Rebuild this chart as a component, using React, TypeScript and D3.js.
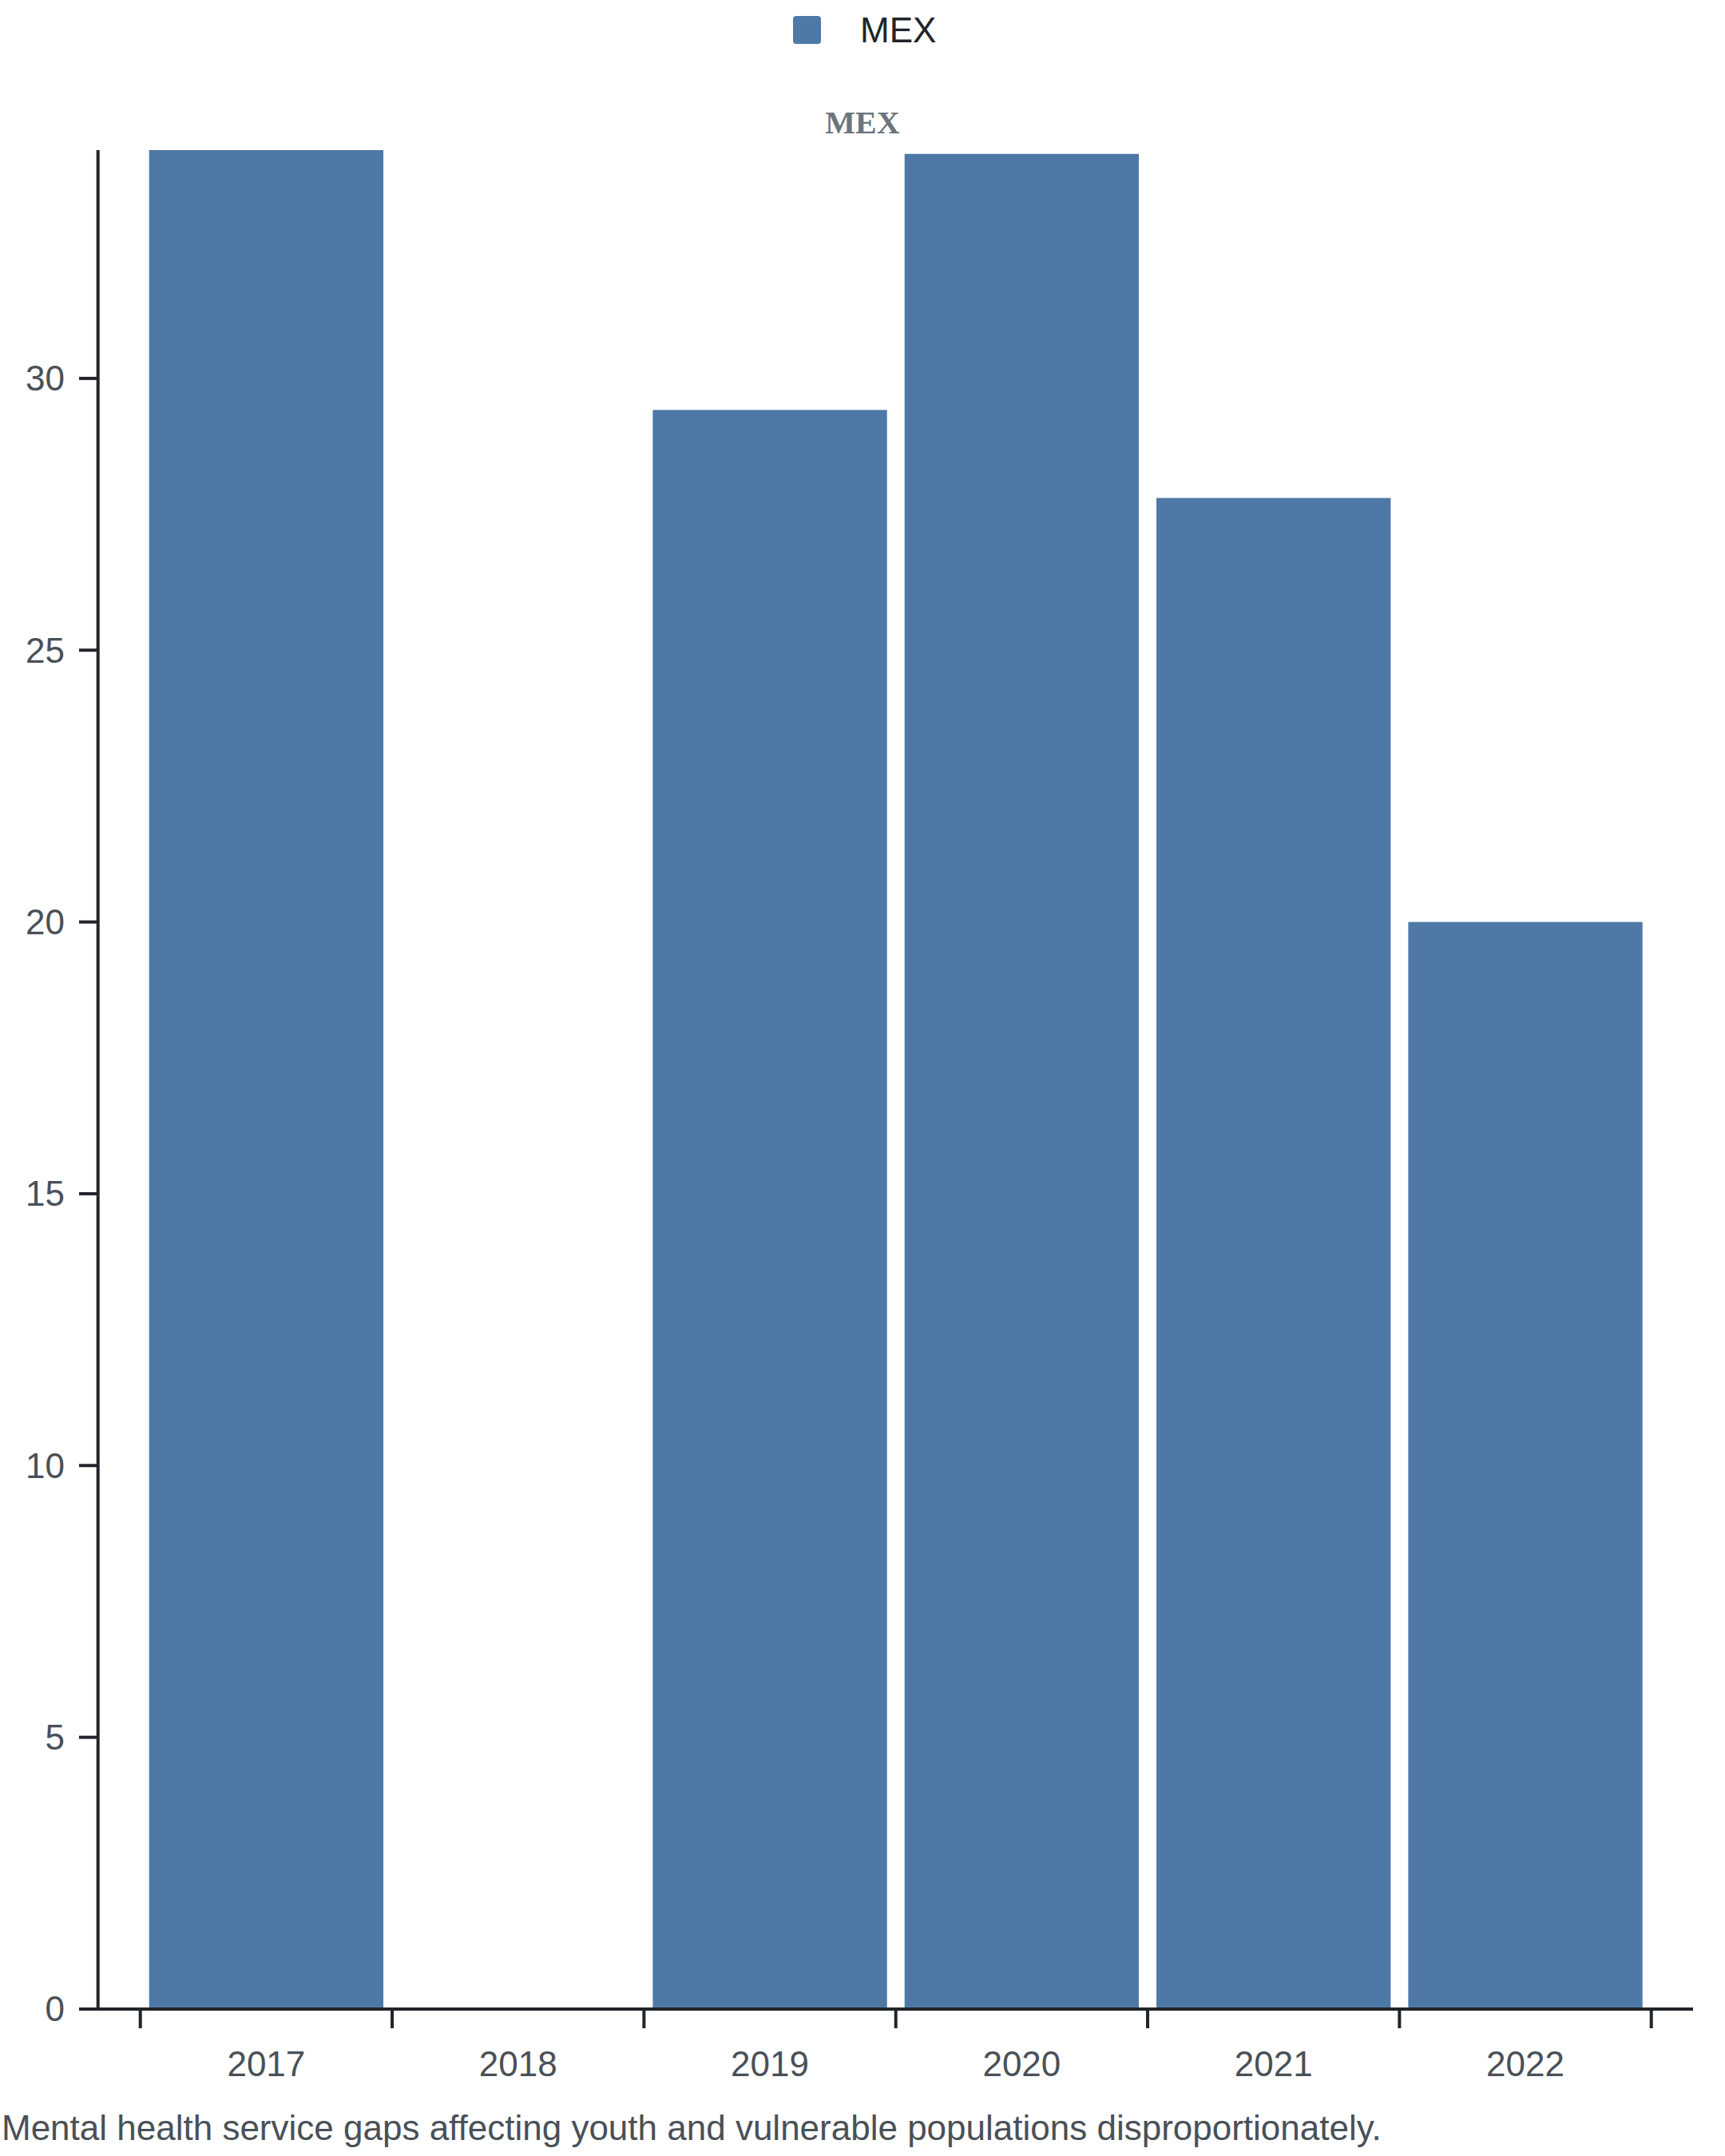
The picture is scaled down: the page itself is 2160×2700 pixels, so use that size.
import React from "react"
import * as d3 from "d3"

const years = ["2017", "2018", "2019", "2020", "2021", "2022"]
const values = [34.2, 0, 29.42, 34.13, 27.8, 20.0]
const yTicks = [0, 5, 10, 15, 20, 25, 30]
const seriesName = "MEX"
const caption = "Mental health service gaps affecting youth and vulnerable populations disproportionately."

const W = 2160
const H = 2700
const sans = "'Liberation Sans', Arial, Helvetica, sans-serif"

export default function App() {
  const x = d3.scaleBand<string>().domain(years).range([175.7, 2067.7]).padding(0)
  const y = d3.scaleLinear().domain([0, 34.2]).range([2516, 188])
  const inset = 11
  const axisColor = "#212529"
  const labelColor = "#495057"

  return (
    <svg
      width={W}
      height={H}
      style={{ position: "absolute", left: 0, top: 0, background: "#fff" }}
    >
      {/* legend */}
      <rect x={993} y={20} width={35} height={35} rx={4} fill="#4e79a7" />
      <text x={1077} y={53} fontFamily={sans} fontSize={44} fill="#212529">
        {seriesName}
      </text>

      {/* title */}
      <text
        x={1080}
        y={166.5}
        textAnchor="middle"
        fontFamily="'Liberation Serif', 'Times New Roman', serif"
        fontWeight="bold"
        fontSize={40}
        fill="#6c757d"
      >
        {seriesName}
      </text>

      {/* bars */}
      {years.map((yr, i) => (
        <rect
          key={yr}
          x={(x(yr) ?? 0) + inset}
          y={y(values[i])}
          width={x.bandwidth() - inset * 2}
          height={y(0) - y(values[i])}
          fill="#4e79a7"
        />
      ))}

      {/* y axis */}
      <line x1={122.7} x2={122.7} y1={y.range()[1]} y2={y(0)} stroke={axisColor} strokeWidth={4} />
      {yTicks.map((t) => (
        <g key={t} transform={`translate(0,${y(t)})`}>
          <line x1={99} x2={122.7} stroke={axisColor} strokeWidth={4} />
          <text
            x={81}
            dy="0.35em"
            textAnchor="end"
            fontFamily={sans}
            fontSize={44}
            fill={labelColor}
          >
            {t}
          </text>
        </g>
      ))}

      {/* x axis */}
      <line x1={99} x2={2120} y1={y(0)} y2={y(0)} stroke={axisColor} strokeWidth={4} />
      {[...years.map((yr) => x(yr) ?? 0), x.range()[1]].map((px, i) => (
        <line key={i} x1={px} x2={px} y1={y(0)} y2={y(0) + 24} stroke={axisColor} strokeWidth={4} />
      ))}
      {years.map((yr) => (
        <text
          key={yr}
          x={(x(yr) ?? 0) + x.bandwidth() / 2}
          y={2600}
          textAnchor="middle"
          fontFamily={sans}
          fontSize={44}
          fill={labelColor}
        >
          {yr}
        </text>
      ))}

      {/* caption */}
      <text x={2} y={2680} fontFamily={sans} fontSize={44} fill={labelColor}>
        {caption}
      </text>
    </svg>
  )
}
